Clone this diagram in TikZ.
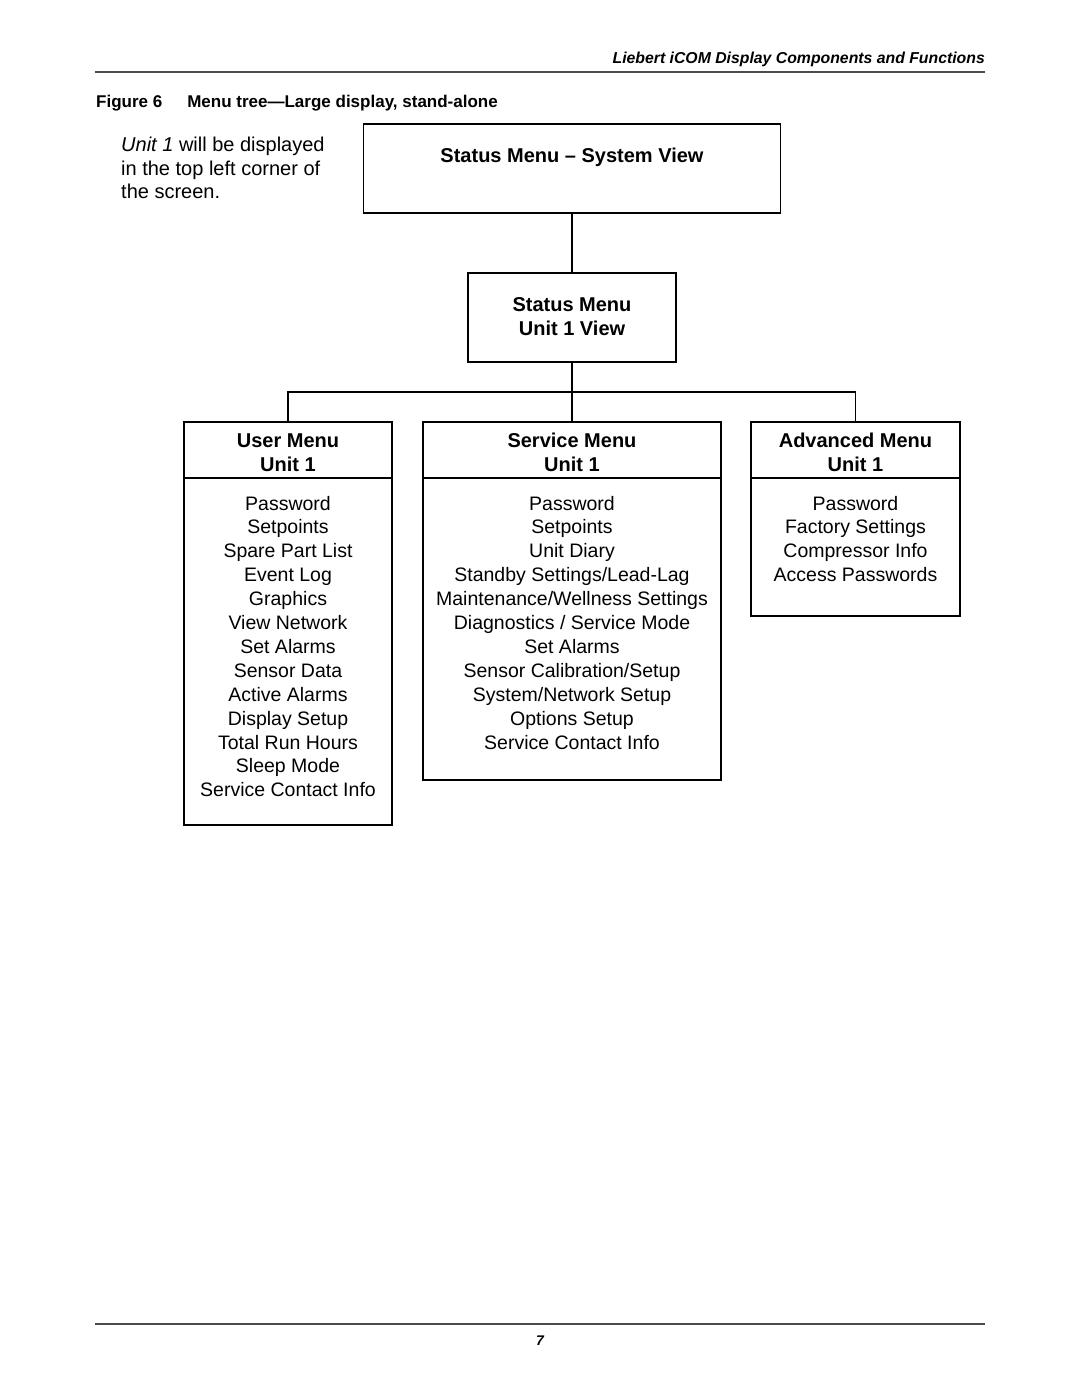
\documentclass[tikz,border=0pt]{standalone}
\usepackage{fontspec}
\setmainfont{Liberation Sans}
\begin{document}
\begin{tikzpicture}[x=1pt,y=-1pt,
  box/.style={draw=black, line width=1.2pt, inner sep=0pt},
  hd/.style={font=\bfseries\fontsize{20}{24}\selectfont, anchor=base, inner sep=0pt},
  item/.style={font=\fontsize{19.5}{24}\selectfont, anchor=base, inner sep=0pt},
  note/.style={font=\fontsize{20}{24}\selectfont, anchor=base west, inner sep=0pt},
  conn/.style={line width=1.8pt},
  rulel/.style={line width=1.4pt, draw=black!70}]
\useasboundingbox (0,0) rectangle (1080,1397);
% page header and footer
\node[anchor=base east, inner sep=0pt, font=\bfseries\itshape\fontsize{15.8}{18}\selectfont] (hdr) at (985,63.5) {Liebert iCOM Display Components and Functions};
\draw[rulel] (95,72) -- (985,72);
\node[anchor=base west, inner sep=0pt, font=\bfseries\fontsize{17}{20}\selectfont] (cap) at (96,107) {Figure 6\hspace{25pt}Menu tree—Large display, stand-alone};
\draw[rulel] (95,1324) -- (985,1324);
\node[anchor=base, inner sep=0pt, font=\bfseries\itshape\fontsize{14}{16}\selectfont] (pg) at (540,1345) {7};
% note
\node[note] (n1) at (121,151) {\itshape Unit 1\upshape{} will be displayed};
\node[note] (n2) at (121,175) {in the top left corner of};
\node[note] (n3) at (121,198) {the screen.};
% boxes
\node[box, minimum width=417pt, minimum height=89pt] (sysview) at (572,168.5) {};
\node[hd] (sysviewt) at (572,162) {Status Menu – System View};
\node[box, minimum width=208pt, minimum height=89pt] (statusunit) at (572,317.5) {};
\node[hd] (su1) at (572,311) {Status Menu};
\node[hd] (su2) at (572,335) {Unit 1 View};
\node[box, minimum width=208pt, minimum height=403pt] (user) at (288,623.5) {};
\node[box, minimum width=298pt, minimum height=358pt] (service) at (572,601) {};
\node[box, minimum width=209pt, minimum height=194pt] (adv) at (855.5,519) {};
\coordinate (divy) at (0,478);
\coordinate (bus) at (572,392);
\draw[box] (user.west |- divy) -- (user.east |- divy);
\draw[box] (service.west |- divy) -- (service.east |- divy);
\draw[box] (adv.west |- divy) -- (adv.east |- divy);
\node[hd] (uh1) at (288,447) {User Menu};
\node[hd] (uh2) at (288,471) {Unit 1};
\node[hd] (sh1) at (572,447) {Service Menu};
\node[hd] (sh2) at (572,471) {Unit 1};
\node[hd] (ah1) at (855.5,447) {Advanced Menu};
\node[hd] (ah2) at (855.5,471) {Unit 1};
% connectors
\draw[conn] (sysview.south) -- (statusunit.north);
\draw[conn] (statusunit.south) -- (service.north);
\draw[conn] (user.north) -- (user.north |- bus) -- (adv.north |- bus) -- (adv.north);
% items
\foreach \t [count=\i from 0] in {Password, Setpoints, Spare Part List, Event Log, Graphics, View Network, Set Alarms, Sensor Data, Active Alarms, Display Setup, Total Run Hours, Sleep Mode, Service Contact Info}
  \node[item] (u\i) at (288,{510+23.9*\i}) {\t};
\foreach \t [count=\i from 0] in {Password, Setpoints, Unit Diary, Standby Settings/Lead-Lag, Maintenance/Wellness Settings, Diagnostics / Service Mode, Set Alarms, Sensor Calibration/Setup, System/Network Setup, Options Setup, Service Contact Info}
  \node[item] (s\i) at (572,{510+23.9*\i}) {\t};
\foreach \t [count=\i from 0] in {Password, Factory Settings, Compressor Info, Access Passwords}
  \node[item] (a\i) at (855.5,{510+23.9*\i}) {\t};
\end{tikzpicture}
\end{document}
